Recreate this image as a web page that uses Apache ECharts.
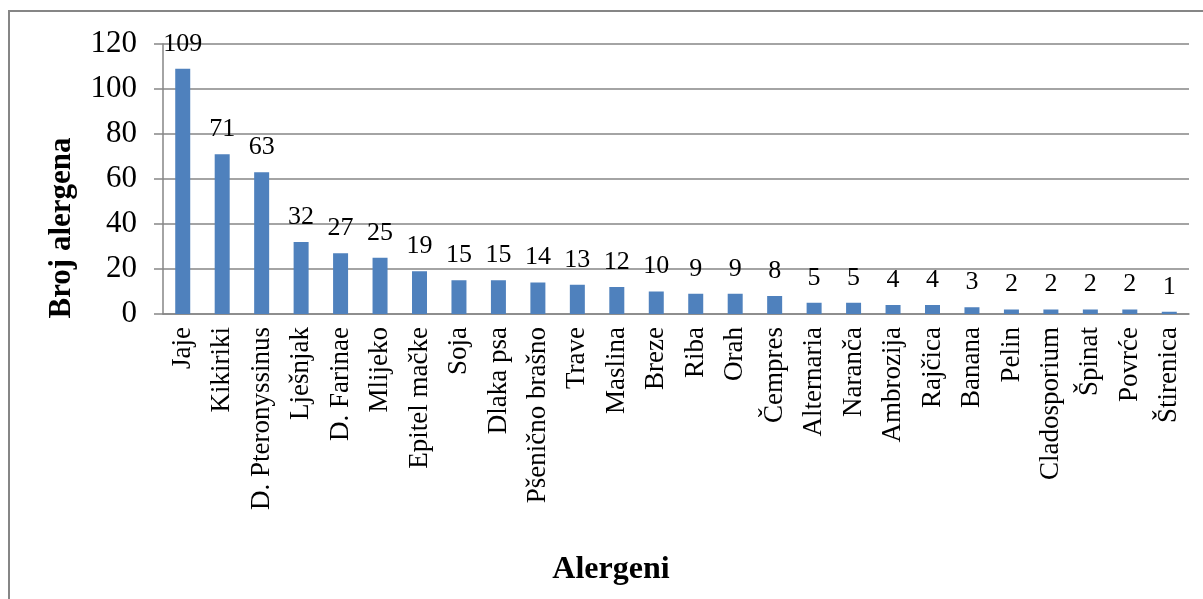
<!DOCTYPE html>
<html><head><meta charset="utf-8">
<script src="https://cdn.jsdelivr.net/npm/echarts@6/dist/echarts.min.js"></script>
<style>html,body{margin:0;padding:0;background:#fff}#c{width:1203px;height:599px}</style>
</head><body><div id="c"></div>
<script>
const categories = ['Jaje','Kikiriki','D. Pteronyssinus','Lješnjak','D. Farinae','Mlijeko','Epitel mačke','Soja','Dlaka psa','Pšenično brašno','Trave','Maslina','Breze','Riba','Orah','Čempres','Alternaria','Naranča','Ambrozija','Rajčica','Banana','Pelin','Cladosporium','Špinat','Povrće','Štirenica'];
const values = [109,71,63,32,27,25,19,15,15,14,13,12,10,9,9,8,5,5,4,4,3,2,2,2,2,1];
const yTitle = 'Broj alergena';
const xTitle = 'Alergeni';
const FONT = "'Liberation Serif','Times New Roman',serif";
const chart = echarts.init(document.getElementById('c'));
chart.setOption({
  animation:false,
  grid:{left:163,top:44,right:14,bottom:285,containLabel:false},
  graphic:[
    {type:'rect',shape:{x:9,y:11,width:1210,height:610},style:{fill:'none',stroke:'#868686',lineWidth:2},silent:true},
    {type:'text',x:62,y:228,rotation:Math.PI/2,style:{text:yTitle,font:"bold 31px "+FONT,fill:'#000',textAlign:'center',textVerticalAlign:'middle'}},
    {type:'text',x:611,y:570,style:{text:xTitle,font:"bold 32px "+FONT,fill:'#000',textAlign:'center',textVerticalAlign:'middle'}}
  ],
  xAxis:{type:'category',data:categories,
    axisLine:{lineStyle:{color:'#868686',width:1.5}},
    axisTick:{length:8,lineStyle:{color:'#868686',width:1.5}},
    axisLabel:{rotate:90,interval:0,fontFamily:FONT,fontSize:27,color:'#000',margin:13}},
  yAxis:{type:'value',min:0,max:120,interval:20,
    axisLine:{show:true,lineStyle:{color:'#868686',width:1.5}},
    axisTick:{show:true,length:9,lineStyle:{color:'#868686',width:1.5}},
    splitLine:{lineStyle:{color:'#868686',width:1.5}},
    axisLabel:{fontFamily:FONT,fontSize:31,color:'#000',margin:26}},
  series:[{type:'bar',data:values,barWidth:15,itemStyle:{color:'#4f81bd'},
    label:{show:true,position:'top',distance:12,fontFamily:FONT,fontSize:26,color:'#000'}}]
});
</script></body></html>
